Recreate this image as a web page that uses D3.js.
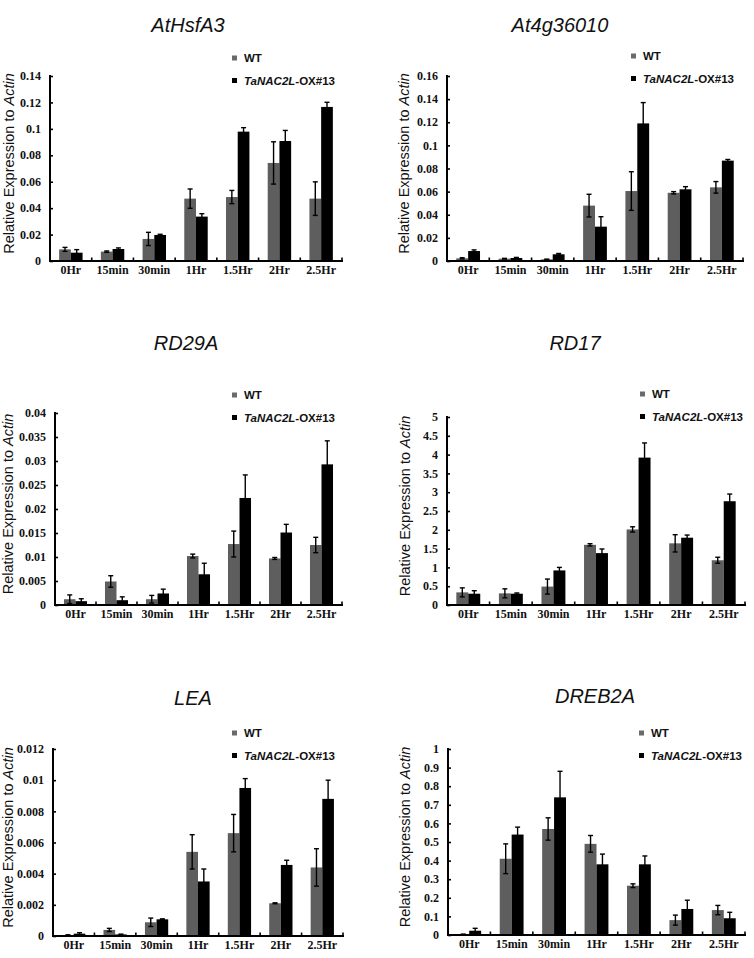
<!DOCTYPE html>
<html>
<head>
<meta charset="utf-8">
<script src="https://cdn.jsdelivr.net/npm/d3@7/dist/d3.min.js"></script>
<style>
  html, body { margin: 0; padding: 0; background: #fff; }
  svg { display: block; }
</style>
</head>
<body>
<svg id="chart" width="754" height="958"></svg>
<script>
// ---------------- DATA ----------------
const categories = ["0Hr", "15min", "30min", "1Hr", "1.5Hr", "2Hr", "2.5Hr"];
const seriesNames = ["WT", "TaNAC2L-OX#13"];
const geneNames = ["AtHsfA3", "At4g36010", "RD29A", "RD17", "LEA", "DREB2A"];

const hsfa3WT     = [0.0088, 0.0071, 0.0167, 0.0472, 0.0484, 0.0742, 0.0472];
const hsfa3WTErr  = [0.0015, 0.0005, 0.0050, 0.0073, 0.0050, 0.0160, 0.0127];
const hsfa3OX     = [0.0063, 0.0091, 0.0197, 0.0336, 0.0979, 0.0908, 0.1166];
const hsfa3OXErr  = [0.0023, 0.0008, 0.0005, 0.0022, 0.0030, 0.0080, 0.0035];

const at4gWT      = [0.0023, 0.0020, 0.0014, 0.0479, 0.0605, 0.0590, 0.0637];
const at4gWTErr   = [0.0005, 0.0003, 0.0002, 0.0098, 0.0167, 0.0010, 0.0050];
const at4gOX      = [0.0086, 0.0026, 0.0058, 0.0297, 0.1190, 0.0620, 0.0868];
const at4gOXErr   = [0.0010, 0.0005, 0.0007, 0.0086, 0.0180, 0.0023, 0.0010];

const rd29aWT     = [0.0012, 0.0049, 0.0012, 0.0102, 0.0127, 0.0097, 0.0125];
const rd29aWTErr  = [0.0009, 0.0012, 0.0008, 0.0004, 0.0027, 0.0002, 0.0016];
const rd29aOX     = [0.0008, 0.0010, 0.0024, 0.0064, 0.0223, 0.0151, 0.0293];
const rd29aOXErr  = [0.0005, 0.0007, 0.0009, 0.0023, 0.0048, 0.0017, 0.0049];

const rd17WT      = [0.336, 0.31, 0.49, 1.60, 2.01, 1.64, 1.19];
const rd17WTErr   = [0.12, 0.12, 0.20, 0.03, 0.07, 0.23, 0.08];
const rd17OX      = [0.30, 0.30, 0.92, 1.38, 3.92, 1.79, 2.76];
const rd17OXErr   = [0.08, 0.02, 0.08, 0.11, 0.39, 0.07, 0.19];

const leaWT       = [0.00005, 0.00039, 0.00088, 0.0054, 0.0066, 0.0021, 0.0044];
const leaWTErr    = [0.00003, 0.00010, 0.00027, 0.0011, 0.0012, 0.00003, 0.0012];
const leaOX       = [0.00015, 0.00010, 0.00107, 0.0035, 0.0095, 0.00456, 0.0088];
const leaOXErr    = [0.00006, 0.00002, 0.00003, 0.0008, 0.0006, 0.0003, 0.0012];

const dreb2aWT    = [0.003, 0.41, 0.57, 0.49, 0.265, 0.08, 0.134];
const dreb2aWTErr = [0.002, 0.08, 0.06, 0.045, 0.01, 0.027, 0.025];
const dreb2aOX    = [0.023, 0.54, 0.74, 0.38, 0.38, 0.14, 0.09];
const dreb2aOXErr = [0.013, 0.04, 0.14, 0.055, 0.045, 0.047, 0.032];

const yMaxes  = [0.14, 0.16, 0.04, 5, 0.012, 1];
const ySteps  = [0.02, 0.02, 0.005, 0.5, 0.002, 0.1];

const geneValues = [
  [hsfa3WT, hsfa3WTErr, hsfa3OX, hsfa3OXErr],
  [at4gWT, at4gWTErr, at4gOX, at4gOXErr],
  [rd29aWT, rd29aWTErr, rd29aOX, rd29aOXErr],
  [rd17WT, rd17WTErr, rd17OX, rd17OXErr],
  [leaWT, leaWTErr, leaOX, leaOXErr],
  [dreb2aWT, dreb2aWTErr, dreb2aOX, dreb2aOXErr]
];

// ---------------- LAYOUT ----------------
const layouts = [
  {x0: 50,  x1: 342, y0: 261, y1: 76,  tx: 188, ty: 25,  yl: 9,   lx: 232, ly: 58},
  {x0: 447, x1: 743, y0: 261, y1: 76,  tx: 560, ty: 25,  yl: 404, lx: 631, ly: 56},
  {x0: 55,  x1: 342, y0: 605, y1: 413, tx: 186, ty: 343, yl: 8,   lx: 232, ly: 395},
  {x0: 447, x1: 745, y0: 605, y1: 417, tx: 575, ty: 343, yl: 405, lx: 640, ly: 394},
  {x0: 53,  x1: 343, y0: 936, y1: 749, tx: 193, ty: 698, yl: 8,   lx: 232, ly: 733},
  {x0: 448, x1: 745, y0: 935, y1: 749, tx: 595, ty: 696, yl: 405, lx: 639, ly: 733}
];

const colors = ["#5e5e5e", "#000000"];
const svg = d3.select("#chart");
const serif = "'Liberation Serif', 'Times New Roman', serif";
const sans = "'Liberation Sans', Arial, sans-serif";

geneNames.forEach((gene, gi) => {
  const L = layouts[gi];
  const [wv, we, ov, oe] = geneValues[gi];
  const g = svg.append("g");

  const x = d3.scaleBand().domain(categories).range([L.x0, L.x1]).padding(0);
  const xs = d3.scaleBand().domain(seriesNames).range([0, x.bandwidth()]).paddingInner(0).paddingOuter(0.78);
  const y = d3.scaleLinear().domain([0, yMaxes[gi]]).range([L.y0, L.y1]);
  const nT = Math.round(yMaxes[gi] / ySteps[gi]);
  const ticks = d3.range(nT + 1).map(i => +(i * ySteps[gi]).toFixed(6));

  const rows = categories.map((c, i) => ({
    c,
    vals: [
      {s: seriesNames[0], v: wv[i], e: we[i], k: 0},
      {s: seriesNames[1], v: ov[i], e: oe[i], k: 1}
    ]
  }));

  // bars
  const grp = g.selectAll("g.cat").data(rows).join("g")
    .attr("transform", d => `translate(${x(d.c)},0)`);
  grp.selectAll("rect").data(d => d.vals).join("rect")
    .attr("x", d => xs(d.s))
    .attr("width", xs.bandwidth())
    .attr("y", d => y(d.v))
    .attr("height", d => L.y0 - y(d.v))
    .attr("fill", d => colors[d.k]);

  // error bars
  const eb = grp.selectAll("g.err").data(d => d.vals).join("g")
    .attr("transform", d => `translate(${xs(d.s) + xs.bandwidth() / 2},0)`);
  eb.append("line")
    .attr("y1", d => y(Math.max(0, d.v - d.e))).attr("y2", d => y(d.v + d.e))
    .attr("stroke", "#000").attr("stroke-width", 1.4);
  eb.append("line")
    .attr("x1", -2.5).attr("x2", 2.5)
    .attr("y1", d => y(d.v + d.e)).attr("y2", d => y(d.v + d.e))
    .attr("stroke", "#000").attr("stroke-width", 1.4);
  eb.append("line")
    .attr("x1", -2.5).attr("x2", 2.5)
    .attr("y1", d => y(Math.max(0, d.v - d.e))).attr("y2", d => y(Math.max(0, d.v - d.e)))
    .attr("stroke", "#000").attr("stroke-width", 1.4);

  // y axis
  const yAxis = d3.axisRight(y).tickValues(ticks).tickSize(3).tickFormat("");
  const ya = g.append("g").attr("transform", `translate(${L.x0},0)`).call(yAxis);
  ya.select(".domain").attr("stroke", "#000").attr("stroke-width", 2).attr("d", `M0,${L.y1 - 1}V${L.y0}`);
  ya.selectAll(".tick line").attr("stroke", "#000").attr("stroke-width", 1.6);

  g.selectAll("text.ytl").data(ticks).join("text")
    .attr("x", L.x0 - 9).attr("y", d => y(d)).attr("dy", "0.35em")
    .attr("text-anchor", "end")
    .style("font-family", serif).style("font-weight", "bold").style("font-size", "12px")
    .attr("fill", "#111")
    .text(d => String(d));

  // x axis
  const bounds = categories.map(c => x(c)).concat([L.x1]);
  g.append("line").attr("x1", L.x0 - 1).attr("x2", L.x1 + 1).attr("y1", L.y0).attr("y2", L.y0)
    .attr("stroke", "#000").attr("stroke-width", 2);
  g.selectAll("line.xt").data(bounds).join("line")
    .attr("x1", d => d).attr("x2", d => d).attr("y1", L.y0).attr("y2", L.y0 - 3.5)
    .attr("stroke", "#000").attr("stroke-width", 1.6);
  g.selectAll("text.xtl").data(categories).join("text")
    .attr("x", d => x(d) + x.bandwidth() / 2).attr("y", L.y0 + 13)
    .attr("text-anchor", "middle")
    .style("font-family", serif).style("font-weight", "bold").style("font-size", "12px")
    .attr("fill", "#111")
    .text(d => d);

  // title
  g.append("text").attr("x", L.tx).attr("y", L.ty).attr("dy", "0.35em")
    .attr("text-anchor", "middle")
    .style("font-family", sans).style("font-style", "italic").style("font-size", "20px")
    .attr("fill", "#111")
    .text(gene);

  // y label
  const ylc = (L.y0 + L.y1) / 2 - 5;
  const yt = g.append("text")
    .attr("transform", `translate(${L.yl},${ylc}) rotate(-90)`)
    .attr("text-anchor", "middle").attr("dy", "0.35em")
    .style("font-family", sans).style("font-size", "14.5px").attr("fill", "#111");
  yt.append("tspan").text("Relative Expression to ");
  yt.append("tspan").style("font-style", "italic").text("Actin");

  // legend
  seriesNames.forEach((s, k) => {
    const ly = L.ly + k * 22.5;
    g.append("rect").attr("x", L.lx).attr("y", ly - 2.5).attr("width", 5).attr("height", 5)
      .attr("fill", k === 0 ? "#6a6a6a" : "#000");
    const t = g.append("text").attr("x", L.lx + 12).attr("y", ly).attr("dy", "0.35em")
      .style("font-family", sans).style("font-weight", "bold").style("font-size", "11.5px")
      .attr("fill", "#111");
    if (k === 0) {
      t.text(s);
    } else {
      const parts = s.split("-");
      t.append("tspan").style("font-style", "italic").text(parts[0]);
      t.append("tspan").text("-" + parts.slice(1).join("-"));
    }
  });
});
</script>
</body>
</html>
